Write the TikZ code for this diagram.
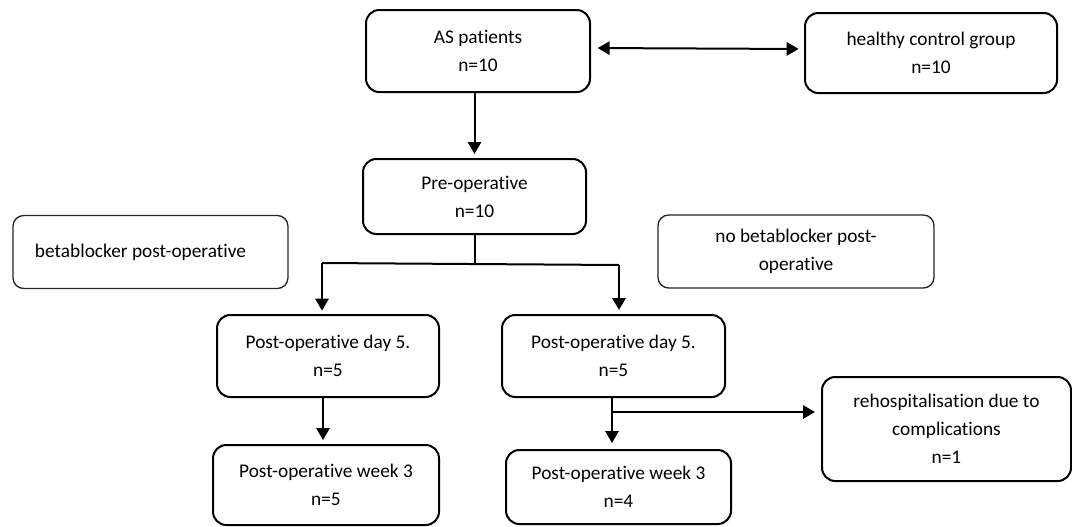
\documentclass[tikz,border=0pt]{standalone}
\usepackage{fontspec}
\setmainfont{Carlito}[Ligatures=NoCommon]
\usetikzlibrary{arrows.meta}
\begin{document}
\begin{tikzpicture}[x=0.75pt,y=-0.75pt,
  every node/.style={font=\fontsize{14.5pt}{21pt}\selectfont},
  box/.style={draw=black,line width=1.5pt,rounded corners=10pt,align=center,inner sep=0pt},
  sidebox/.style={draw=black!85,line width=1pt,rounded corners=8pt,inner sep=0pt},
  arr/.style={line width=1.5pt,-{Triangle[width=10pt,length=9pt]}},
  dbl/.style={line width=1.5pt,{Triangle[width=10pt,length=9pt]}-{Triangle[width=10pt,length=9pt]}},
  ln/.style={line width=1.5pt}]
\useasboundingbox[fill=white] (0,0) rectangle (1072,526);

\node[box,minimum width=224*0.75pt,minimum height=82*0.75pt] (AS) at (478,51) {AS patients\\n=10};
\node[box,minimum width=252*0.75pt,minimum height=80*0.75pt] (HC) at (931,53) {healthy control group\\n=10};
\node[box,minimum width=223*0.75pt,minimum height=75*0.75pt] (PRE) at (474.5,196.5) {Pre-operative\\n=10};
\node[sidebox,minimum width=275*0.75pt,minimum height=73*0.75pt] (BB) at (150.5,252) {\makebox[173.25pt][l]{betablocker post-operative}};
\node[sidebox,minimum width=276*0.75pt,minimum height=73*0.75pt,align=center] (NB) at (796,251.5) {no betablocker post-\\operative};
\node[box,minimum width=222*0.75pt,minimum height=82*0.75pt] (D5L) at (328,356) {Post-operative day 5.\\n=5};
\node[box,minimum width=223*0.75pt,minimum height=82*0.75pt] (D5R) at (613.5,356) {Post-operative day 5.\\n=5};
\node[box,minimum width=226*0.75pt,minimum height=80*0.75pt] (W3L) at (326,485) {Post-operative week 3\\n=5};
\node[box,minimum width=225*0.75pt,minimum height=74*0.75pt] (W3R) at (618.5,487) {Post-operative week 3\\n=4};
\node[box,minimum width=249*0.75pt,minimum height=104*0.75pt] (RH) at (946.5,429) {rehospitalisation due to\\complications\\n=1};

\coordinate (J) at (474.5,263);
\coordinate (HL) at (322,263);
\coordinate (HR) at (619,265);
\coordinate (L1) at (323,400);
\coordinate (R1) at (612,400);
\coordinate (B1) at (612,412);

\draw[dbl,shorten <=5pt,shorten >=4pt] ([yshift=2.25pt]AS.east) -- ([yshift=3pt]HC.west);
\draw[arr,shorten >=3pt] (AS.south -| PRE.north) -- (PRE.north);
\draw[ln] (PRE.south) -- (J);
\draw[ln] (HL) -- (HR);
\draw[arr,shorten >=2.5pt] (HL) -- (HL |- D5L.north);
\draw[arr,shorten >=3pt] (HR) -- (HR |- D5R.north);
\draw[arr,shorten >=3pt] (D5L.south -| L1) -- (W3L.north -| L1);
\draw[arr,shorten >=4.5pt] (D5R.south -| R1) -- (W3R.north -| R1);
\draw[arr,shorten >=4.5pt] (B1) -- (RH.west |- B1);
\end{tikzpicture}
\end{document}
